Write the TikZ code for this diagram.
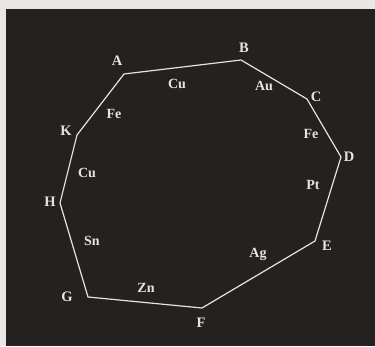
\documentclass[tikz,border=0pt]{standalone}
\usepackage{fontspec}
\setmainfont{Liberation Serif}
\begin{document}
\begin{tikzpicture}[x=1pt,y=-1pt,
  vlab/.style={text=chalk,font=\fontsize{14.5}{14.5}\selectfont\bfseries,inner sep=0pt},
  mlab/.style={text=chalk,font=\fontsize{14}{14}\selectfont\bfseries,inner sep=0pt},
  edge/.style={draw=chalk,line width=1.2pt,line join=miter}]
\definecolor{chalk}{HTML}{E6E4DE}
\definecolor{paper}{HTML}{E9E7E2}
\definecolor{board}{HTML}{242220}
\useasboundingbox (0,0) rectangle (375,346);
\fill[paper] (0,0) rectangle (375,346);
\fill[board] (6,9) rectangle (375,346);
% vertices
\coordinate (A) at (124,74);
\coordinate (B) at (241,60);
\coordinate (C) at (307,99);
\coordinate (D) at (341,157);
\coordinate (E) at (315,241);
\coordinate (F) at (202,308);
\coordinate (G) at (88,297);
\coordinate (H) at (60,203);
\coordinate (K) at (77,135);
\draw[edge] (A) -- (B) -- (C) -- (D) -- (E) -- (F) -- (G) -- (H) -- (K) -- cycle;
% vertex labels
\node[vlab] (lA) at (117,61) {A};
\node[vlab] (lB) at (244,48) {B};
\node[vlab] (lC) at (316,97) {C};
\node[vlab] (lD) at (349,157) {D};
\node[vlab] (lE) at (327,246) {E};
\node[vlab] (lF) at (201,323) {F};
\node[vlab] (lG) at (67,297) {G};
\node[vlab] (lH) at (50,202) {H};
\node[vlab] (lK) at (66,131) {K};
% metal labels
\node[mlab] (m1) at (177,84) {Cu};
\node[mlab] (m2) at (264,86) {Au};
\node[mlab] (m3) at (311,134) {Fe};
\node[mlab] (m4) at (313,185) {Pt};
\node[mlab] (m5) at (258,254) {Ag};
\node[mlab] (m6) at (146,288) {Zn};
\node[mlab] (m7) at (92,241) {Sn};
\node[mlab] (m8) at (87,173) {Cu};
\node[mlab] (m9) at (114,114) {Fe};
\end{tikzpicture}
\end{document}
